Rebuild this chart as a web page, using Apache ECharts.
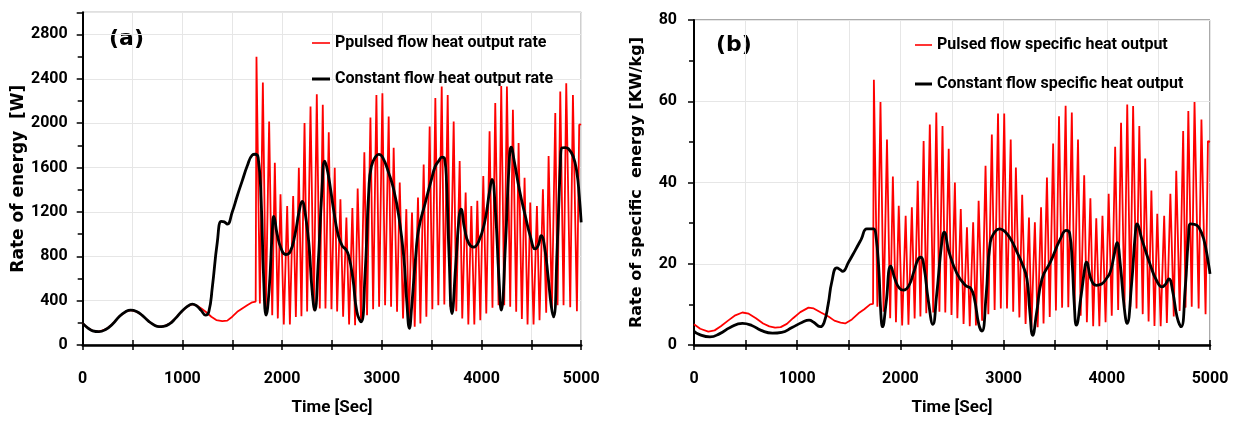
<!DOCTYPE html>
<html>
<head>
<meta charset="utf-8">
<script src="https://cdn.jsdelivr.net/npm/echarts@6/dist/echarts.min.js"></script>
<style>
html,body{margin:0;padding:0;background:#fff;}
#chart{width:1235px;height:421px;}
</style>
</head>
<body>
<div id="chart"></div>
<script>
// ---------- data ----------
// Panel (a): pulsed flow, smooth start before the pulses begin
const pulsedAEarlyTime = [0, 50, 100, 163, 230, 300, 370, 430, 481, 540, 600, 660, 720, 765, 810, 870, 930, 990, 1050, 1099, 1140, 1190, 1240, 1290, 1340, 1400, 1450, 1500, 1550, 1600, 1650, 1700, 1735];
const pulsedAEarlyValue = [195, 155, 128, 120, 140, 190, 260, 300, 314, 302, 265, 215, 178, 165, 168, 190, 240, 300, 348, 368, 358, 330, 295, 255, 225, 215, 220, 255, 299, 330, 359, 385, 392];

// Pulse peaks / troughs (alternating), shared times for both panels
const pulseTime = [1743, 1777, 1807, 1837, 1870, 1901, 1927, 1957, 1984, 2017, 2051, 2078, 2111, 2138, 2168, 2194, 2225, 2251, 2285, 2318,
  2348, 2378, 2408, 2435, 2468, 2495, 2528, 2552, 2585, 2612, 2645, 2672, 2705, 2732, 2758, 2792, 2825, 2852, 2886, 2913,
  2946, 2973, 3006, 3033, 3069, 3093, 3119, 3153, 3180, 3213, 3246, 3270, 3303, 3330, 3363, 3387, 3420, 3447, 3480, 3507,
  3537, 3567, 3601, 3627, 3661, 3687, 3721, 3747, 3781, 3807, 3841, 3868, 3898, 3928, 3958, 3988, 4018, 4048, 4081, 4110,
  4138, 4171, 4198, 4228, 4255, 4288, 4315, 4348, 4372, 4405, 4432, 4462, 4489, 4522, 4556, 4582, 4616, 4649, 4673, 4706,
  4740, 4763, 4790, 4823, 4850, 4890, 4917, 4957, 4980, 5000];
const pulsedAPulseValue = [2600, 374, 2366, 330, 2016, 269, 1643, 240, 1360, 185, 1254, 185, 1344, 252, 1598, 260, 2002, 302, 2151, 314,
  2261, 329, 2166, 329, 1918, 323, 1598, 302, 1315, 254, 1150, 185, 1235, 179, 1410, 210, 1738, 269, 2052, 323,
  2255, 344, 2270, 359, 2061, 344, 1778, 299, 1464, 239, 1225, 175, 1195, 165, 1330, 194, 1628, 254, 1971, 323,
  2226, 359, 2330, 365, 2255, 344, 2016, 305, 1658, 239, 1374, 185, 1254, 185, 1300, 224, 1523, 284, 1927, 335,
  2181, 359, 2336, 359, 2330, 344, 2121, 299, 1822, 234, 1508, 185, 1285, 185, 1254, 224, 1404, 290, 1703, 329,
  2091, 359, 2285, 359, 2360, 340, 2255, 305, 1987, 1990];

// Panel (a): constant flow
const constATime = [0, 50, 100, 163, 230, 300, 370, 430, 481, 540, 600, 660, 720, 765, 810, 870, 930, 990, 1050, 1099,
  1140, 1190, 1232, 1265, 1300, 1350, 1390, 1420, 1450, 1500, 1550, 1600, 1650, 1700, 1730, 1760, 1790, 1815, 1840, 1870,
  1900, 1917, 1950, 1990, 2034, 2080, 2130, 2170, 2201, 2230, 2270, 2300, 2328, 2360, 2400, 2428, 2460, 2520, 2560, 2602,
  2640, 2668, 2710, 2750, 2792, 2830, 2870, 2896, 2940, 2970, 3010, 3070, 3120, 3170, 3220, 3250, 3277, 3300, 3340, 3370,
  3437, 3500, 3537, 3570, 3604, 3630, 3650, 3675, 3704, 3740, 3775, 3794, 3830, 3870, 3921, 3970, 4030, 4080, 4105, 4140,
  4175, 4198, 4240, 4275, 4298, 4330, 4380, 4439, 4490, 4539, 4570, 4599, 4630, 4670, 4700, 4723, 4760, 4790, 4806, 4840,
  4873, 4920, 4957, 4980, 5000];
const constAValue = [195, 155, 128, 120, 140, 190, 260, 300, 314, 302, 265, 215, 178, 165, 168, 190, 240, 300, 348, 368,
  355, 310, 269, 300, 520, 926, 1115, 1110, 1090, 1200, 1344, 1480, 1613, 1712, 1720, 1690, 1300, 600, 269, 500,
  1000, 1160, 1000, 870, 816, 840, 1000, 1200, 1294, 1200, 900, 500, 314, 700, 1400, 1658, 1550, 1200, 1000, 896,
  860, 806, 600, 300, 209, 600, 1400, 1613, 1700, 1718, 1690, 1550, 1400, 1165, 800, 400, 150, 350, 800, 1046,
  1285, 1500, 1613, 1658, 1694, 1680, 1450, 800, 284, 700, 1150, 1225, 1050, 920, 882, 930, 1100, 1380, 1494, 1200,
  600, 314, 900, 1600, 1783, 1650, 1400, 1165, 980, 867, 900, 986, 900, 600, 350, 254, 900, 1600, 1778, 1780,
  1769, 1700, 1553, 1350, 1106];

// Panel (b): pulsed flow specific heat output
const pulsedBEarlyTime = [0, 60, 139, 200, 260, 330, 400, 469, 530, 600, 670, 730, 786, 840, 900, 960, 1030, 1109, 1160, 1230, 1303, 1360, 1420, 1465, 1530, 1594, 1650, 1707, 1735];
const pulsedBEarlyValue = [5.1, 4.0, 3.3, 3.6, 4.6, 6.0, 7.3, 8.0, 7.7, 6.6, 5.3, 4.6, 4.3, 4.4, 5.2, 6.6, 8.1, 9.2, 9.0, 8.0, 7.0, 6.0, 5.5, 5.3, 6.3, 7.8, 8.8, 10.0, 10.1];
const pulsedBPulseValue = [65.3, 9.4, 59.8, 8.2, 50.6, 6.6, 41.5, 5.6, 34.3, 4.8, 31.8, 5.0, 33.9, 6.5, 40.4, 7.0, 50.2, 7.8, 54.3, 8.0,
  57.2, 8.2, 53.9, 8.0, 48.3, 7.4, 40.0, 6.6, 33.5, 5.2, 29.0, 4.6, 30.2, 4.8, 35.5, 6.0, 44.1, 7.6, 51.8, 8.6,
  57.0, 9.0, 57.0, 9.0, 50.6, 8.2, 43.7, 6.8, 37.0, 5.2, 31.4, 4.3, 30.2, 4.4, 33.9, 5.3, 41.2, 6.9, 49.6, 8.5,
  56.3, 9.2, 58.9, 9.3, 57.2, 8.6, 50.6, 7.2, 41.8, 5.6, 36.1, 4.6, 31.2, 4.6, 31.8, 5.6, 37.2, 7.2, 48.8, 8.6,
  54.7, 9.3, 59.2, 9.4, 58.8, 9.0, 53.9, 7.6, 45.9, 5.8, 38.0, 4.7, 32.3, 4.6, 31.8, 5.4, 37.2, 7.0, 42.9, 8.4,
  52.7, 9.2, 57.6, 9.4, 59.8, 9.0, 55.5, 7.6, 50.2, 50.0];

// Panel (b): constant flow specific heat output
const constBTime = [0, 50, 155, 250, 350, 469, 560, 650, 760, 850, 950, 1050, 1115, 1160, 1222, 1260, 1300, 1335, 1384, 1420,
  1439, 1500, 1562, 1620, 1675, 1739, 1760, 1790, 1810, 1827, 1860, 1907, 1950, 1990, 2030, 2080, 2130, 2170, 2198, 2230,
  2270, 2315, 2350, 2400, 2425, 2470, 2548, 2629, 2683, 2720, 2760, 2790, 2830, 2871, 2920, 2962, 3010, 3070, 3129, 3180,
  3226, 3255, 3282, 3320, 3372, 3453, 3550, 3608, 3640, 3665, 3685, 3705, 3750, 3790, 3802, 3850, 3899, 3950, 4000, 4034,
  4070, 4099, 4130, 4170, 4196, 4240, 4275, 4294, 4340, 4423, 4480, 4536, 4570, 4601, 4640, 4680, 4720, 4760, 4790, 4811,
  4850, 4891, 4940, 4988, 5000];
const constBValue = [3.4, 2.6, 2.0, 2.8, 4.3, 5.3, 4.8, 3.6, 2.9, 3.1, 4.3, 5.6, 6.1, 5.6, 4.5, 5.5, 10, 15.5, 19.0, 18.5,
  18.1, 20.5, 23.3, 26, 28.6, 28.6, 27.5, 19, 8, 4.5, 10, 19.4, 16, 14, 13.5, 14.5, 18, 21, 21.6, 19,
  11, 5.1, 12, 25, 27.8, 23, 17.6, 14.7, 13.9, 11, 5, 3.4, 12, 25.3, 28, 28.6, 28, 26, 22.9, 20,
  16.3, 8, 2.4, 8, 16.3, 20.4, 26.1, 28.2, 27.5, 20, 10, 4.9, 12, 19.5, 20.4, 16, 14.7, 15, 16.5, 18.0,
  22, 25.2, 20, 9, 5.3, 15, 27, 29.8, 26, 19.6, 16, 14.3, 15, 16.3, 13, 7, 4.5, 14, 26, 29.8,
  29.7, 29.0, 26, 19.6, 17.5];

// Axis ticks / labels
const xTickStep = 500;
const xLabelStep = 1000;
const yATickStep = 400;
const yBTickStep = 20;

const names = {
  pa: 'Ppulsed flow heat output rate',
  ca: 'Constant flow heat output rate',
  pb: 'Pulsed flow specific heat output',
  cb: 'Constant flow specific heat output'
};

// ---------- build ----------
function zip(t, v) { return t.map((x, i) => [x, v[i]]); }
const pulsedA = zip(pulsedAEarlyTime.concat(pulseTime), pulsedAEarlyValue.concat(pulsedAPulseValue));
const pulsedB = zip(pulsedBEarlyTime.concat(pulseTime), pulsedBEarlyValue.concat(pulsedBPulseValue));
const constA = zip(constATime, constAValue);
const constB = zip(constBTime, constBValue);

const FONT = 'Roboto, "Liberation Sans", sans-serif';
const TITLEFONT = '"DejaVu Sans", Verdana, sans-serif';
const LEGENDTEXT = { fontFamily: FONT, fontWeight: 'bold', fontSize: 16, color: '#000' };

function xAxisMain(gi) {
  return {
    type: 'value', gridIndex: gi, min: 0, max: 5000, interval: xTickStep,
    name: 'Time [Sec]', nameLocation: 'middle', nameGap: 54,
    nameTextStyle: { fontFamily: FONT, fontWeight: 'bold', fontSize: 17, color: '#000' },
    axisLine: { show: true, onZero: false, lineStyle: { color: '#000', width: 2.5 } },
    axisTick: { show: true, inside: true, length: 5, lineStyle: { color: '#000', width: 1.5 } },
    axisLabel: { show: true, margin: 26, fontFamily: FONT, fontWeight: 'bold', fontSize: 16, color: '#000',
      formatter: v => (v % xLabelStep === 0 ? String(v) : '') },
    splitLine: { show: true, lineStyle: { color: '#e6e6e6', width: 1 } }
  };
}
function xAxisOuterTicks(gi) {
  return {
    type: 'value', gridIndex: gi, min: 0, max: 5000, interval: xTickStep, position: 'bottom',
    axisLine: { show: false }, axisLabel: { show: false }, splitLine: { show: false },
    axisTick: { show: true, inside: false, length: 5, lineStyle: { color: '#000', width: 1.5 } }
  };
}
function legendItem(name, left, top, w, h) {
  return { data: [name], orient: 'vertical', left: left, top: top, icon: 'rect',
    itemWidth: w, itemHeight: h, textStyle: LEGENDTEXT, selectedMode: false };
}

const option = {
  animation: false,
  backgroundColor: '#fff',
  grid: [
    { left: 82.7, top: 12.3, width: 498.5, height: 334.4, show: true, borderColor: '#666', borderWidth: 1, containLabel: false },
    { left: 694, top: 20, width: 516, height: 326.7, show: true, borderColor: '#555', borderWidth: 1, containLabel: false }
  ],
  legend: [
    legendItem(names.pa, 307, 30, 18, 1.6),
    legendItem(names.ca, 307, 66, 18, 3),
    legendItem(names.pb, 910, 32, 17, 1.6),
    legendItem(names.cb, 910, 71, 17, 3)
  ],
  xAxis: [xAxisMain(0), xAxisOuterTicks(0), xAxisMain(1), xAxisOuterTicks(1)],
  yAxis: [
    { type: 'value', gridIndex: 0, min: 0, max: 3000, interval: yATickStep,
      name: 'Rate of energy  [W]', nameLocation: 'middle', nameGap: 56, nameRotate: 90,
      nameTextStyle: { fontFamily: TITLEFONT, fontWeight: 'bold', fontSize: 17, color: '#000' },
      axisLine: { show: true, lineStyle: { color: '#000', width: 2 } },
      axisTick: { show: true, inside: false, length: 6, lineStyle: { color: '#000', width: 1.5 } },
      minorTick: { show: true, splitNumber: 2, length: 5, lineStyle: { color: '#000', width: 1.5 } },
      axisLabel: { margin: 15, showMaxLabel: false, fontFamily: FONT, fontWeight: 'bold', fontSize: 16, color: '#000',
        formatter: v => String(v) },
      splitLine: { show: true, lineStyle: { color: '#e6e6e6', width: 1 } } },
    { type: 'value', gridIndex: 1, min: 0, max: 80, interval: yBTickStep,
      name: 'Rate of specific  energy [KW/kg]', nameLocation: 'middle', nameGap: 49, nameRotate: 90,
      nameTextStyle: { fontFamily: TITLEFONT, fontWeight: 'bold', fontSize: 16, color: '#000' },
      axisLine: { show: true, lineStyle: { color: '#000', width: 2 } },
      axisTick: { show: true, inside: false, length: 6, lineStyle: { color: '#000', width: 1.5 } },
      minorTick: { show: true, splitNumber: 2, length: 5, lineStyle: { color: '#000', width: 1.5 } },
      axisLabel: { margin: 17, fontFamily: FONT, fontWeight: 'bold', fontSize: 16, color: '#000',
        formatter: v => String(v) },
      splitLine: { show: true, lineStyle: { color: '#e6e6e6', width: 1 } } }
  ],
  graphic: [
    { type: 'text', left: 109, top: 28, style: { text: '(a)', font: 'bold 22px ' + TITLEFONT, fill: '#000' } },
    { type: 'text', left: 716, top: 34, style: { text: '(b)', font: 'bold 22px ' + TITLEFONT, fill: '#000' } }
  ],
  series: [
    { name: names.pa, type: 'line', xAxisIndex: 0, yAxisIndex: 0, data: pulsedA, symbol: 'none',
      lineStyle: { color: '#ff0000', width: 1.8 }, itemStyle: { color: '#ff0000' }, z: 2 },
    { name: names.ca, type: 'line', xAxisIndex: 0, yAxisIndex: 0, data: constA, symbol: 'none', smooth: 0.5,
      lineStyle: { color: '#000', width: 2.8 }, itemStyle: { color: '#000' }, z: 3 },
    { name: names.pb, type: 'line', xAxisIndex: 2, yAxisIndex: 1, data: pulsedB, symbol: 'none',
      lineStyle: { color: '#ff0000', width: 1.8 }, itemStyle: { color: '#ff0000' }, z: 2 },
    { name: names.cb, type: 'line', xAxisIndex: 2, yAxisIndex: 1, data: constB, symbol: 'none', smooth: 0.5,
      lineStyle: { color: '#000', width: 2.8 }, itemStyle: { color: '#000' }, z: 3 }
  ]
};

const chart = echarts.init(document.getElementById('chart'), null, { renderer: 'canvas' });
chart.setOption(option);
</script>
</body>
</html>
